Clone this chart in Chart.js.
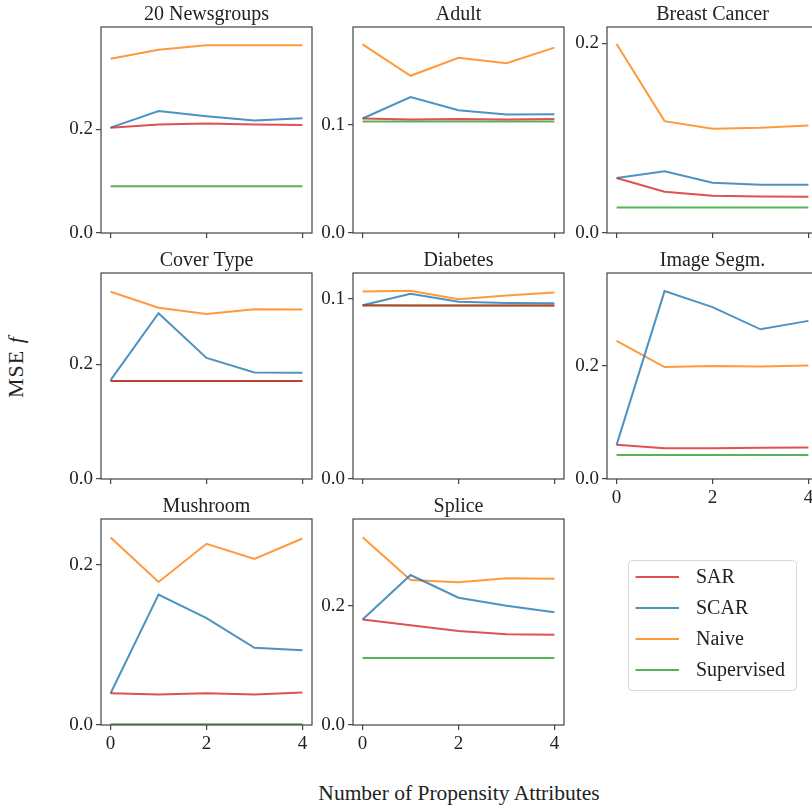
<!DOCTYPE html>
<html>
<head>
<meta charset="utf-8">
<title>MSE by number of propensity attributes</title>
<script src="https://cdn.jsdelivr.net/npm/chart.js@4.4.0/dist/chart.umd.min.js"></script>
<style>
    html, body {
        margin: 0;
        padding: 0;
        background: #fff;
        width: 812px;
        height: 807px;
        overflow: hidden;
        position: relative;
    }
    canvas {
        position: absolute;
    }
    .fig-label {
        position: absolute;
        font-family: 'Liberation Serif', serif;
        font-size: 21.5px;
        color: #222;
        white-space: nowrap;
        transform: translate(-50%, -50%);
    }
    #xLabel {
        left: 459px;
        top: 793px;
    }
    #yLabel {
        left: 16px;
        top: 367px;
        font-size: 22px;
        letter-spacing: 1px;
        transform: translate(-50%, -50%) rotate(-90deg);
    }
</style>
</head>
<body>
<div class="fig-label" id="xLabel">Number of Propensity Attributes</div>
<div class="fig-label" id="yLabel">MSE <i>f</i></div>
<script>
    // Shared x values and series
    const attributeCounts = [0, 1, 2, 3, 4];
    const xTickValues = [0, 2, 4];
    const seriesNames = ['SAR', 'SCAR', 'Naive', 'Supervised'];
    const seriesColors = ['rgba(214, 39, 40, 0.8)', 'rgba(31, 119, 180, 0.8)', 'rgba(255, 127, 14, 0.8)', 'rgba(44, 160, 44, 0.8)'];

    // MSE per data set, one row per method (same order as seriesNames)
    const newsgroupsMse = [
        [0.203, 0.209, 0.211, 0.209, 0.208],
        [0.203, 0.235, 0.225, 0.217, 0.221],
        [0.336, 0.353, 0.362, 0.362, 0.362],
        [0.090, 0.090, 0.090, 0.090, 0.090]
    ];
    const adultMse = [
        [0.1056, 0.1046, 0.1052, 0.1046, 0.1052],
        [0.1056, 0.1253, 0.1133, 0.1093, 0.1096],
        [0.174, 0.145, 0.1616, 0.1566, 0.171],
        [0.1028, 0.1028, 0.1028, 0.1028, 0.1028]
    ];
    const breastCancerMse = [
        [0.058, 0.0435, 0.0392, 0.0385, 0.0382],
        [0.058, 0.065, 0.053, 0.0509, 0.0509],
        [0.1994, 0.118, 0.110, 0.111, 0.1135],
        [0.0268, 0.0268, 0.0268, 0.0268, 0.0268]
    ];
    const coverTypeMse = [
        [0.171, 0.171, 0.171, 0.171, 0.171],
        [0.1722, 0.289, 0.2111, 0.1856, 0.185],
        [0.3264, 0.2984, 0.2874, 0.296, 0.2956],
        [0.171, 0.171, 0.171, 0.171, 0.171]
    ];
    const diabetesMse = [
        [0.0964, 0.0963, 0.0963, 0.0963, 0.0963],
        [0.0964, 0.1028, 0.0983, 0.0977, 0.0975],
        [0.1041, 0.1044, 0.0998, 0.1018, 0.1035],
        [0.0963, 0.0963, 0.0963, 0.0963, 0.0963]
    ];
    const imageSegmMse = [
        [0.0605, 0.0546, 0.0546, 0.0552, 0.0558],
        [0.0605, 0.3327, 0.3043, 0.2651, 0.280],
        [0.2445, 0.1982, 0.200, 0.1993, 0.201],
        [0.0427, 0.0427, 0.0427, 0.0427, 0.0427]
    ];
    const mushroomMse = [
        [0.0396, 0.038, 0.0396, 0.038, 0.0405],
        [0.0396, 0.1629, 0.1336, 0.0965, 0.0935],
        [0.2343, 0.1787, 0.2263, 0.2075, 0.233],
        [0.001, 0.001, 0.001, 0.001, 0.001]
    ];
    const spliceMse = [
        [0.1775, 0.1678, 0.1582, 0.1526, 0.152],
        [0.1775, 0.2523, 0.214, 0.2005, 0.1898],
        [0.316, 0.2439, 0.240, 0.2467, 0.246],
        [0.1126, 0.1126, 0.1126, 0.1126, 0.1126]
    ];

    // Grid placement of the plot areas
    const colLeft = [101, 353, 607];
    const rowTop = [27, 273, 519];
    const plotW = 211;
    const plotH = 206;
    const axisW = 50;
    const axisH = 30;
    const titleH = 24;
    const padRight = 12;

    const panels = [
        { title: '20 Newsgroups', mse: newsgroupsMse, yMax: 0.397, yTicks: [0, 0.2], col: 0, row: 0, xLabels: false },
        { title: 'Adult', mse: adultMse, yMax: 0.190, yTicks: [0, 0.1], col: 1, row: 0, xLabels: false },
        { title: 'Breast Cancer', mse: breastCancerMse, yMax: 0.2173, yTicks: [0, 0.2], col: 2, row: 0, xLabels: false },
        { title: 'Cover Type', mse: coverTypeMse, yMax: 0.359, yTicks: [0, 0.2], col: 0, row: 1, xLabels: false },
        { title: 'Diabetes', mse: diabetesMse, yMax: 0.1143, yTicks: [0, 0.1], col: 1, row: 1, xLabels: false },
        { title: 'Image Segm.', mse: imageSegmMse, yMax: 0.3648, yTicks: [0, 0.2], col: 2, row: 1, xLabels: true },
        { title: 'Mushroom', mse: mushroomMse, yMax: 0.2573, yTicks: [0, 0.2], col: 0, row: 2, xLabels: true },
        { title: 'Splice', mse: spliceMse, yMax: 0.3465, yTicks: [0, 0.2], col: 1, row: 2, xLabels: true }
    ];

    const textColor = '#222';
    const spineColor = '#444';
    const serif = 'Liberation Serif';

    // Box around the plot area on all four sides
    const framePlugin = {
        id: 'frame',
        afterDraw(chart) {
            const { ctx, chartArea } = chart;
            ctx.save();
            ctx.strokeStyle = spineColor;
            ctx.lineWidth = 1.2;
            ctx.strokeRect(chartArea.left, chartArea.top, chartArea.width, chartArea.height);
            ctx.restore();
        }
    };

    // Legend with a rounded frame, drawn in the spare grid cell
    const boxLegendPlugin = {
        id: 'boxLegend',
        afterDraw(chart) {
            const ctx = chart.ctx;
            const w = chart.width;
            const h = chart.height;
            ctx.save();
            ctx.beginPath();
            ctx.roundRect(0.5, 0.5, w - 1, h - 1, 4);
            ctx.fillStyle = 'rgba(255, 255, 255, 0.8)';
            ctx.fill();
            ctx.strokeStyle = '#d6d6d6';
            ctx.lineWidth = 1;
            ctx.stroke();

            ctx.font = '20px "' + serif + '"';
            ctx.textBaseline = 'middle';
            chart.data.datasets.forEach((ds, i) => {
                const y = 17 + i * 31;
                ctx.beginPath();
                ctx.moveTo(7.5, y);
                ctx.lineTo(51, y);
                ctx.strokeStyle = ds.borderColor;
                ctx.lineWidth = 2;
                ctx.stroke();
                ctx.fillStyle = textColor;
                ctx.fillText(ds.label, 68, y + 1);
            });
            ctx.restore();
        }
    };

    const makeCanvas = (left, top, width, height) => {
        const canvas = document.createElement('canvas');
        canvas.width = width;
        canvas.height = height;
        canvas.style.left = left + 'px';
        canvas.style.top = top + 'px';
        canvas.style.width = width + 'px';
        canvas.style.height = height + 'px';
        document.body.appendChild(canvas);
        return canvas;
    };

    const tickFont = { family: serif, size: 19 };
    const tickGrid = {
        drawOnChartArea: false,
        drawTicks: true,
        tickLength: 5,
        color: spineColor,
        lineWidth: 1.2
    };

    panels.forEach((p) => {
        const canvas = makeCanvas(
            colLeft[p.col] - axisW,
            rowTop[p.row] - titleH,
            axisW + plotW + padRight,
            titleH + plotH + axisH
        );

        new Chart(canvas.getContext('2d'), {
            type: 'line',
            data: {
                datasets: seriesNames.map((name, i) => ({
                    label: name,
                    data: attributeCounts.map((x, j) => ({ x: x, y: p.mse[i][j] })),
                    borderColor: seriesColors[i],
                    borderWidth: 2,
                    pointRadius: 0,
                    tension: 0,
                    fill: false
                }))
            },
            options: {
                responsive: false,
                animation: false,
                devicePixelRatio: 1,
                layout: {
                    padding: { left: 0, right: padRight, top: 0, bottom: 0 }
                },
                plugins: {
                    legend: { display: false },
                    tooltip: { enabled: false },
                    title: {
                        display: true,
                        // only as wide as the plot area, so the text centres over it
                        fullSize: false,
                        text: p.title,
                        color: textColor,
                        font: { family: serif, size: 20, weight: 'normal', lineHeight: 1 },
                        padding: { top: 2, bottom: 2 }
                    }
                },
                scales: {
                    x: {
                        type: 'linear',
                        min: -0.2,
                        max: 4.2,
                        bounds: 'data',
                        afterBuildTicks: (s) => {
                            s.ticks = xTickValues.map((v) => ({ value: v }));
                        },
                        afterFit: (s) => {
                            s.height = axisH;
                        },
                        ticks: {
                            callback: (v) => (p.xLabels ? String(v) : ''),
                            font: tickFont,
                            color: textColor,
                            padding: 3,
                            maxRotation: 0,
                            autoSkip: false
                        },
                        grid: tickGrid,
                        border: { display: false }
                    },
                    y: {
                        min: 0,
                        max: p.yMax,
                        bounds: 'data',
                        afterBuildTicks: (s) => {
                            s.ticks = p.yTicks.map((v) => ({ value: v }));
                        },
                        afterFit: (s) => {
                            s.width = axisW;
                        },
                        ticks: {
                            callback: (v) => Number(v).toFixed(1),
                            font: tickFont,
                            color: textColor,
                            padding: 3
                        },
                        grid: tickGrid,
                        border: { display: false }
                    }
                }
            },
            plugins: [framePlugin]
        });
    });

    // Legend cell
    const legendCanvas = makeCanvas(628, 560, 169, 131);
    new Chart(legendCanvas.getContext('2d'), {
        type: 'line',
        data: {
            datasets: seriesNames.map((name, i) => ({
                label: name,
                data: [],
                borderColor: seriesColors[i]
            }))
        },
        options: {
            responsive: false,
            animation: false,
            devicePixelRatio: 1,
            plugins: {
                legend: { display: false },
                tooltip: { enabled: false }
            },
            scales: {
                x: { display: false },
                y: { display: false }
            }
        },
        plugins: [boxLegendPlugin]
    });
</script>
</body>
</html>
